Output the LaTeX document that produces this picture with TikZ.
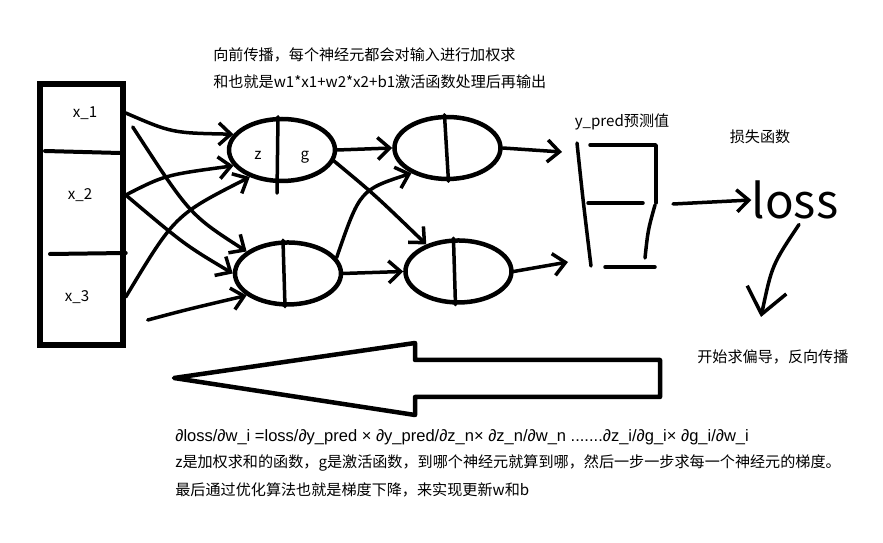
\documentclass[tikz,border=0pt]{standalone}
\usepackage{fontspec}
\setmainfont{Noto Sans CJK SC}
\newfontfamily\mathtextfont{Liberation Sans}
\usepackage{tikz}
\usetikzlibrary{arrows.meta,positioning,shapes.geometric,calc}
\tikzset{
  neuron/.style={
    draw,
    ellipse,
    line width=0.09cm,
    minimum width=2.12cm,
    minimum height=1.24cm,
    inner sep=0pt
  },
  handline/.style={
    line width=0.07cm,
    line cap=round,
    line join=round
  },
  handarrow/.style={
    handline,
    -{Straight Barb[length=2.4mm,width=4.4mm]}
  },
  note/.style={
    font=\fontsize{8.6}{10}\selectfont,
    anchor=west,
    inner sep=0pt
  },
  varlabel/.style={
    font=\fontsize{8.6}{10}\selectfont,
    inner sep=0pt
  }
}

\begin{document}
\begin{tikzpicture}[x=0.02cm, y=-0.02cm, node distance=1.1cm]
  \useasboundingbox[fill=white] (0,0) rectangle (883,543);

  % input layer
  \node[draw, line width=0.11cm, minimum width=1.66cm, minimum height=5.22cm, inner sep=0pt] (inbox) at (81.5,214.5) {};
  \draw[handline, line width=0.08cm] (45,151) -- (120,153);
  \draw[handline, line width=0.08cm] (50,254) -- (inbox.east |- 0,253);
  \node[varlabel] (x1) at (85,113) {x\_1};
  \node[varlabel] (x2) at (80,195) {x\_2};
  \node[varlabel] (x3) at (77,297) {x\_3};

  % hidden neurons
  \node[neuron] (n1) at (282,150) {};
  \node[neuron, below=1.14cm of n1, xshift=0.12cm] (n2) {};
  \node[neuron, right=1.1cm of n1, yshift=0.04cm] (n3) {};
  \node[neuron, right=1.2cm of n2, yshift=0.04cm] (n4) {};
  \draw[handline] ([xshift=-0.08cm]n1.north) -- ([xshift=-0.1cm,yshift=-0.2cm]n1.south);
  \draw[handline] ([xshift=-0.1cm]n2.north) -- ([xshift=-0.06cm]n2.south);
  \draw[handline] ([xshift=-0.06cm]n3.north) -- ([xshift=0.02cm]n3.south);
  \draw[handline] ([xshift=-0.1cm]n4.north) -- ([xshift=-0.06cm]n4.south);
  \node[varlabel] (z) at (258,155) {z};
  \node[varlabel] (g) at (305,157) {g};

  % input -> hidden
  \draw[handarrow] (x1 -| inbox.east) .. controls (172,133) .. (n1.162);
  \draw[handarrow] ($(x1 -| inbox.east)+(7,14)$) .. controls (190,215) .. (n2.152);
  \draw[handarrow] (x2 -| inbox.east) .. controls (165,175) .. (n1.198);
  \draw[handarrow] (x2 -| inbox.east) .. controls (185,245) .. (n2.west);
  \draw[handarrow] (x3 -| inbox.east) .. controls (175,215) .. (n1.220);
  \draw[handarrow] ($(x3 -| inbox.east)+(22,23)$) .. controls (185,310) .. (n2.208);

  % hidden -> hidden
  \draw[handarrow] (n1.east) -- (n3.west);
  \draw[handarrow] (n1.-12) .. controls (375,195) .. (n4.140);
  \draw[handarrow] (n2.18) .. controls (360,190) .. (n3.215);
  \draw[handarrow] (n2.east) -- (n4.west);

  % output
  \coordinate (outa) at (562,152);
  \coordinate (outb) at (568,262);
  \coordinate (cupout) at (673,204);
  \draw[handarrow] (n3.east) -- (outa);
  \draw[handarrow] (n4.east) -- (outb);
  \draw[handline] (577,143) .. controls (583,200) .. (591,266);
  \draw[handline] (590,145) -- (656,145) -- (656,203);
  \draw[handline] (655,205) .. controls (648,230) .. (645,258);
  \draw[handline] (588,203) -- (643,203);
  \draw[handline] (605,267) -- (655,267);
  \node[varlabel] (ypred) at (622,122) {y\_pred预测值};

  % loss
  \node[font=\fontsize{27}{30}\selectfont, inner sep=0pt] (loss) at (795,200) {loss};
  \node[varlabel] (lossfn) at (760,137) {损失函数};
  \draw[handarrow] (cupout) -- (loss.west);
  \coordinate (back) at (761,317);
  \draw[handline, -{Straight Barb[length=5mm,width=8mm]}] ([xshift=0.08cm,yshift=-0.1cm]loss.south) .. controls (772,265) .. (back);
  \node[note] (backtxt) at (697,357) {开始求偏导，反向传播};

  % backward arrow
  \draw[line width=0.09cm, line join=round] (174,378) -- (415,343) -- (415,360) -- (660,360)
    -- (660,397) -- (415,397) -- (415,415) -- cycle;

  % texts
  \node[note] (fwd1) at (213,55) {向前传播，每个神经元都会对输入进行加权求};
  \node[note] (fwd2) at (213,82) {和也就是w1*x1+w2*x2+b1激活函数处理后再输出};
  \node[note, font=\mathtextfont\fontsize{9.4}{11}\selectfont] (grad1) at (175,437) {∂loss/∂w\_i =loss/∂y\_pred × ∂y\_pred/∂z\_n× ∂z\_n/∂w\_n .......∂z\_i/∂g\_i× ∂g\_i/∂w\_i};
  \node[note] (grad2) at (175,463) {z是加权求和的函数，g是激活函数，到哪个神经元就算到哪，然后一步一步求每一个神经元的梯度。};
  \node[note] (grad3) at (175,490) {最后通过优化算法也就是梯度下降，来实现更新w和b};
\end{tikzpicture}
\end{document}
